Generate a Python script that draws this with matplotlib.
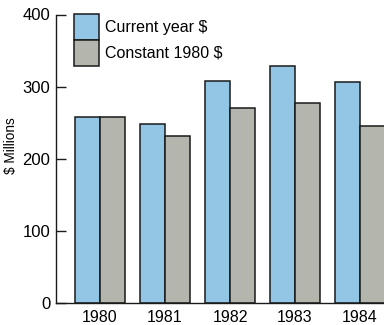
import matplotlib
matplotlib.use("Agg")
import matplotlib.pyplot as plt
from matplotlib.patches import Rectangle
import numpy as np

plt.rcParams['font.family'] = ['Liberation Sans', 'DejaVu Sans']

years = ['1980', '1981', '1982', '1983', '1984']
current = [258, 248, 308, 329, 306]
constant = [258, 232, 270, 277, 245]
labels = ['Current year $', 'Constant 1980 $']

blue = '#93c6e4'
grey = '#b4b6ae'
edge = '#1a1a1a'

W, H = 384, 325
fig = plt.figure(figsize=(W / 100, H / 100), dpi=100)
ax = fig.add_axes([56 / W, 22.3 / H, 1 - 56 / W, (325 - 14.5 - 22.3) / H])

x = np.arange(len(years))
w = 0.39
ax.bar(x - w / 2, current, w, color=blue, edgecolor=edge, linewidth=1.1)
ax.bar(x + w / 2, constant, w, color=grey, edgecolor=edge, linewidth=1.1)

ax.set_xlim(-0.677, 4.369)
ax.set_ylim(0, 400)
ax.set_yticks([0, 100, 200, 300, 400])
ax.set_xticks(x)
ax.set_xticklabels(years)
ax.tick_params(axis='x', length=0, pad=5, labelsize=11.5)
ax.tick_params(axis='y', direction='in', length=7.5, width=1, pad=4,
               labelsize=12, color=edge)
for s in ['top', 'right']:
    ax.spines[s].set_visible(False)
for s in ['left', 'bottom']:
    ax.spines[s].set_linewidth(1)
    ax.spines[s].set_color(edge)

fig.text(11 / W, 1 - 146 / H, '$ Millions', rotation=90, fontsize=9.8,
         ha='center', va='center')

# legend boxes stacked on each other
for i, (c, lab) in enumerate(zip([blue, grey], labels)):
    top = 14.3 + i * 25.9
    fig.add_artist(Rectangle((73.5 / W, 1 - (top + 25.9) / H), 25.5 / W, 25.9 / H,
                             transform=fig.transFigure, facecolor=c,
                             edgecolor=edge, linewidth=1.1))
    fig.text(105 / W, 1 - (top + 13) / H, lab, fontsize=11.5, va='center', ha='left')

fig.savefig('out.png', dpi=100)
